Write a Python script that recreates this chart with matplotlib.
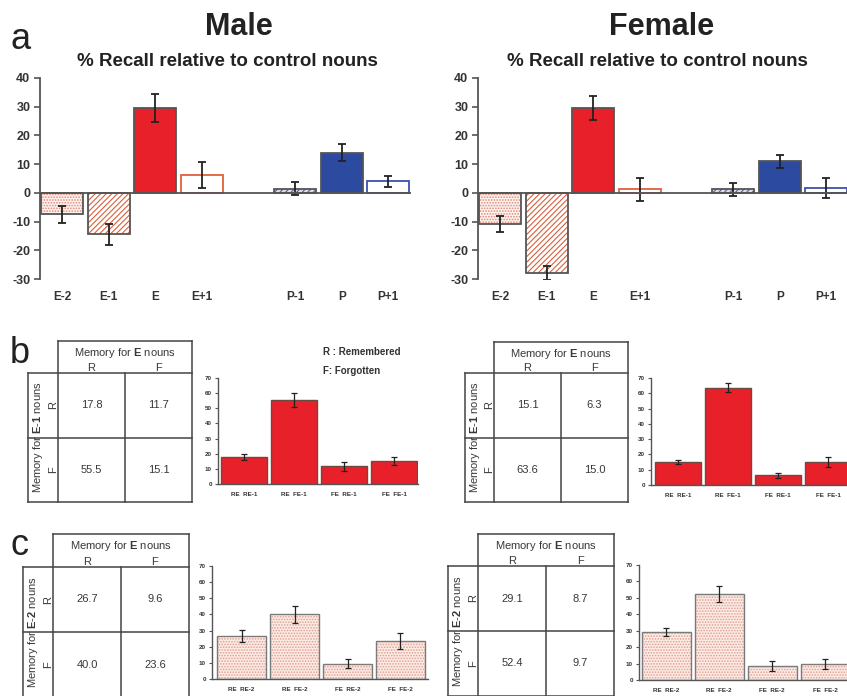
import matplotlib.pyplot as plt

plt.rcParams['font.family'] = ['Liberation Sans', 'DejaVu Sans']
plt.rcParams['mathtext.fontset'] = 'custom'
plt.rcParams['mathtext.rm'] = 'Liberation Sans'
plt.rcParams['mathtext.bf'] = 'Liberation Sans:bold'
plt.rcParams['hatch.linewidth'] = 0.8

W, H = 847, 696

# panel a: % recall relative to control nouns
a_labels = ['E-2', 'E-1', 'E', 'E+1', 'P-1', 'P', 'P+1']
a_pos = [0, 1, 2, 3, 5, 6, 7]
male_a = [-7.5, -14.5, 29.5, 6.3, 1.5, 14.0, 4.0]
male_a_err = [3.0, 3.5, 4.8, 4.5, 2.3, 3.0, 2.0]
female_a = [-11.0, -28.0, 29.5, 1.3, 1.2, 11.0, 1.8]
female_a_err = [2.8, 2.5, 4.2, 4.0, 2.2, 2.3, 3.5]
a_ticks = [-30, -20, -10, 0, 10, 20, 30, 40]

# panels b, c: contingency tables, rows = memory for E-1 / E-2 (R, F), cols = memory for E (R, F)
male_b_tab = [[17.8, 11.7], [55.5, 15.1]]
female_b_tab = [[15.1, 6.3], [63.6, 15.0]]
male_c_tab = [[26.7, 9.6], [40.0, 23.6]]
female_c_tab = [[29.1, 8.7], [52.4, 9.7]]
male_b_err = [2.0, 4.5, 3.0, 2.8]
female_b_err = [1.5, 3.0, 1.5, 3.0]
male_c_err = [3.5, 5.0, 2.5, 5.0]
female_c_err = [2.5, 5.0, 3.0, 3.0]
b_labels = ['RE  RE-1', 'RE  FE-1', 'FE  RE-1', 'FE  FE-1']
c_labels = ['RE  RE-2', 'RE  FE-2', 'FE  RE-2', 'FE  FE-2']
bc_ticks = [0, 10, 20, 30, 40, 50, 60, 70]

# bar styles for panel a: face, hatch, hatch colour, edge
a_styles = [
    ('#fdf2ee', '......', '#e08878', '#555555'),
    ('white', '//////', '#d8603c', '#555555'),
    ('#e8202a', None, None, '#555555'),
    ('white', None, None, '#e0603c'),
    ('#dcdeea', '//////', '#5c628f', '#555555'),
    ('#2c4aa0', None, None, '#555555'),
    ('white', None, None, '#3a50b0'),
]


def px(x0, y0, x1, y1):
    return [x0 / W, 1 - y1 / H, (x1 - x0) / W, (y1 - y0) / H]


def bars(ax, x, h, w, face, hatch, hcol, edge, lw):
    if hatch:
        ax.bar(x, h, w, color=face, edgecolor=hcol, hatch=hatch, linewidth=0)
        ax.bar(x, h, w, fill=False, edgecolor=edge, linewidth=lw)
    else:
        ax.bar(x, h, w, color=face, edgecolor=edge, linewidth=lw)


def panel_a(rect, vals, errs):
    ax = fig.add_axes(px(*rect))
    for p, v, st in zip(a_pos, vals, a_styles):
        bars(ax, p, v, 0.9, st[0], st[1], st[2], st[3], 1.3)
    ax.errorbar(a_pos, vals, yerr=errs, fmt='none', ecolor='#222222',
                elinewidth=1.3, capsize=3, capthick=1.3)
    ax.axhline(0, color='#555555', lw=1.3)
    ax.set_xlim(-0.48, 7.49)
    ax.set_ylim(-30, 40)
    for s in ['top', 'right', 'bottom']:
        ax.spines[s].set_visible(False)
    ax.spines['left'].set_color('#555555')
    ax.spines['left'].set_linewidth(1.3)
    ax.set_yticks(a_ticks)
    ax.set_yticklabels([str(t) for t in a_ticks], fontsize=9, fontweight='bold',
                       color='#333333')
    ax.tick_params(axis='y', length=4, width=1.2, color='#555555', pad=3)
    ax.set_xticks(a_pos)
    ax.set_xticklabels(a_labels, fontsize=8.5, fontweight='bold', color='#333333')
    ax.tick_params(axis='x', length=0, pad=9)
    ax.patch.set_alpha(0)


def panel_bc(rect, tab, errs, labels, xl, red):
    vals = [tab[0][0], tab[1][0], tab[0][1], tab[1][1]]
    ax = fig.add_axes(px(*rect))
    x = list(range(4))
    if red:
        bars(ax, x, vals, 0.92, '#e8202a', None, None, '#6b4a40', 1.0)
    else:
        bars(ax, x, vals, 0.92, '#fcebe6', '......', '#e0a090', '#7a7a7a', 1.0)
    ax.errorbar(x, vals, yerr=errs, fmt='none', ecolor='#222222',
                elinewidth=0.9, capsize=2, capthick=0.9)
    ax.set_xlim(*xl)
    ax.set_ylim(0, 70)
    for s in ['top', 'right']:
        ax.spines[s].set_visible(False)
    for s in ['left', 'bottom']:
        ax.spines[s].set_color('#555555')
        ax.spines[s].set_linewidth(1.0)
    ax.set_yticks(bc_ticks)
    ax.set_yticklabels([str(t) for t in bc_ticks], fontsize=4.5, fontweight='bold',
                       color='#333333')
    ax.tick_params(axis='y', length=2.5, width=0.8, color='#555555', pad=2)
    ax.set_xticks(x)
    ax.set_xticklabels(labels, fontsize=4.5, fontweight='bold', color='#333333')
    ax.tick_params(axis='x', length=0, pad=6)
    ax.patch.set_alpha(0)


def table(ax0, x0, y0, cw, ch, hh, lw, tab, name):
    c = '#444444'
    bot = y0 + hh + 2 * ch
    kw = dict(color=c, lw=1.1)
    ax0.plot([x0, x0 + 2 * cw], [y0, y0], **kw)
    ax0.plot([x0, x0], [y0, bot], **kw)
    ax0.plot([x0 + 2 * cw, x0 + 2 * cw], [y0, bot], **kw)
    ax0.plot([x0 + cw, x0 + cw], [y0 + hh, bot], **kw)
    ax0.plot([x0 - lw, x0 - lw], [y0 + hh, bot], **kw)
    for yy in [y0 + hh, y0 + hh + ch, bot]:
        ax0.plot([x0 - lw, x0 + 2 * cw], [yy, yy], **kw)
    tk = dict(fontsize=8, color='#383838', ha='center', va='center')
    ax0.text(x0 + cw, y0 + 12, r'Memory for $\mathbf{E}$ nouns', **tk)
    ax0.text(x0 + cw / 2, y0 + hh - 5, 'R', **tk)
    ax0.text(x0 + 1.5 * cw, y0 + hh - 5, 'F', **tk)
    ax0.text(x0 - lw + 10, y0 + hh + ch, 'Memory for $\\mathbf{' + name + '}$ nouns',
             rotation=90, **tk)
    ax0.text(x0 - 5, y0 + hh + ch / 2, 'R', rotation=90, **tk)
    ax0.text(x0 - 5, y0 + hh + 1.5 * ch, 'F', rotation=90, **tk)
    for i in range(2):
        for j in range(2):
            ax0.text(x0 + (j + 0.5) * cw, y0 + hh + (i + 0.5) * ch,
                     '%.1f' % tab[i][j], **tk)


fig = plt.figure(figsize=(W / 100, H / 100), dpi=100)
ax0 = fig.add_axes([0, 0, 1, 1])
ax0.set_xlim(0, W)
ax0.set_ylim(H, 0)
ax0.axis('off')

# titles
ax0.text(239, 27, 'Male', fontsize=22, fontweight='bold', ha='center', va='center', color='#222222')
ax0.text(662, 27, 'Female', fontsize=22, fontweight='bold', ha='center', va='center', color='#222222')
ax0.text(227, 62, '% Recall relative to control nouns', fontsize=13.5, fontweight='bold',
         ha='center', va='center', color='#222222')
ax0.text(657, 62, '% Recall relative to control nouns', fontsize=13.5, fontweight='bold',
         ha='center', va='center', color='#222222')
for lab, yb in [('a', 49), ('b', 363), ('c', 555)]:
    ax0.text(10, yb, lab, fontsize=26, ha='left', va='baseline', color='#222222')

ax0.text(323, 352, 'R : Remembered', fontsize=7, fontweight='bold', ha='left', va='center',
         color='#333333')
ax0.text(323, 371, 'F: Forgotten', fontsize=7, fontweight='bold', ha='left', va='center',
         color='#333333')

table(ax0, 58, 341, 67, 64.5, 32, 30, male_b_tab, 'E\\text{-}1')
table(ax0, 494, 342, 67, 64.5, 31, 29, female_b_tab, 'E\\text{-}1')
table(ax0, 53, 534, 68, 65, 33, 30, male_c_tab, 'E\\text{-}2')
table(ax0, 478, 534, 68, 65, 32, 30, female_c_tab, 'E\\text{-}2')

panel_a((40, 78, 411, 279), male_a, male_a_err)
panel_a((478, 78, 849, 279), female_a, female_a_err)

panel_bc((218, 378, 418, 484), male_b_tab, male_b_err, b_labels, (-0.52, 3.48), True)
panel_bc((651, 378, 852, 485), female_b_tab, female_b_err, b_labels, (-0.54, 3.48), True)
panel_bc((212, 566, 428, 679), male_c_tab, male_c_err, c_labels, (-0.56, 3.52), False)
panel_bc((639, 565, 853, 680), female_c_tab, female_c_err, c_labels, (-0.51, 3.52), False)

plt.savefig('out.png', dpi=100)
